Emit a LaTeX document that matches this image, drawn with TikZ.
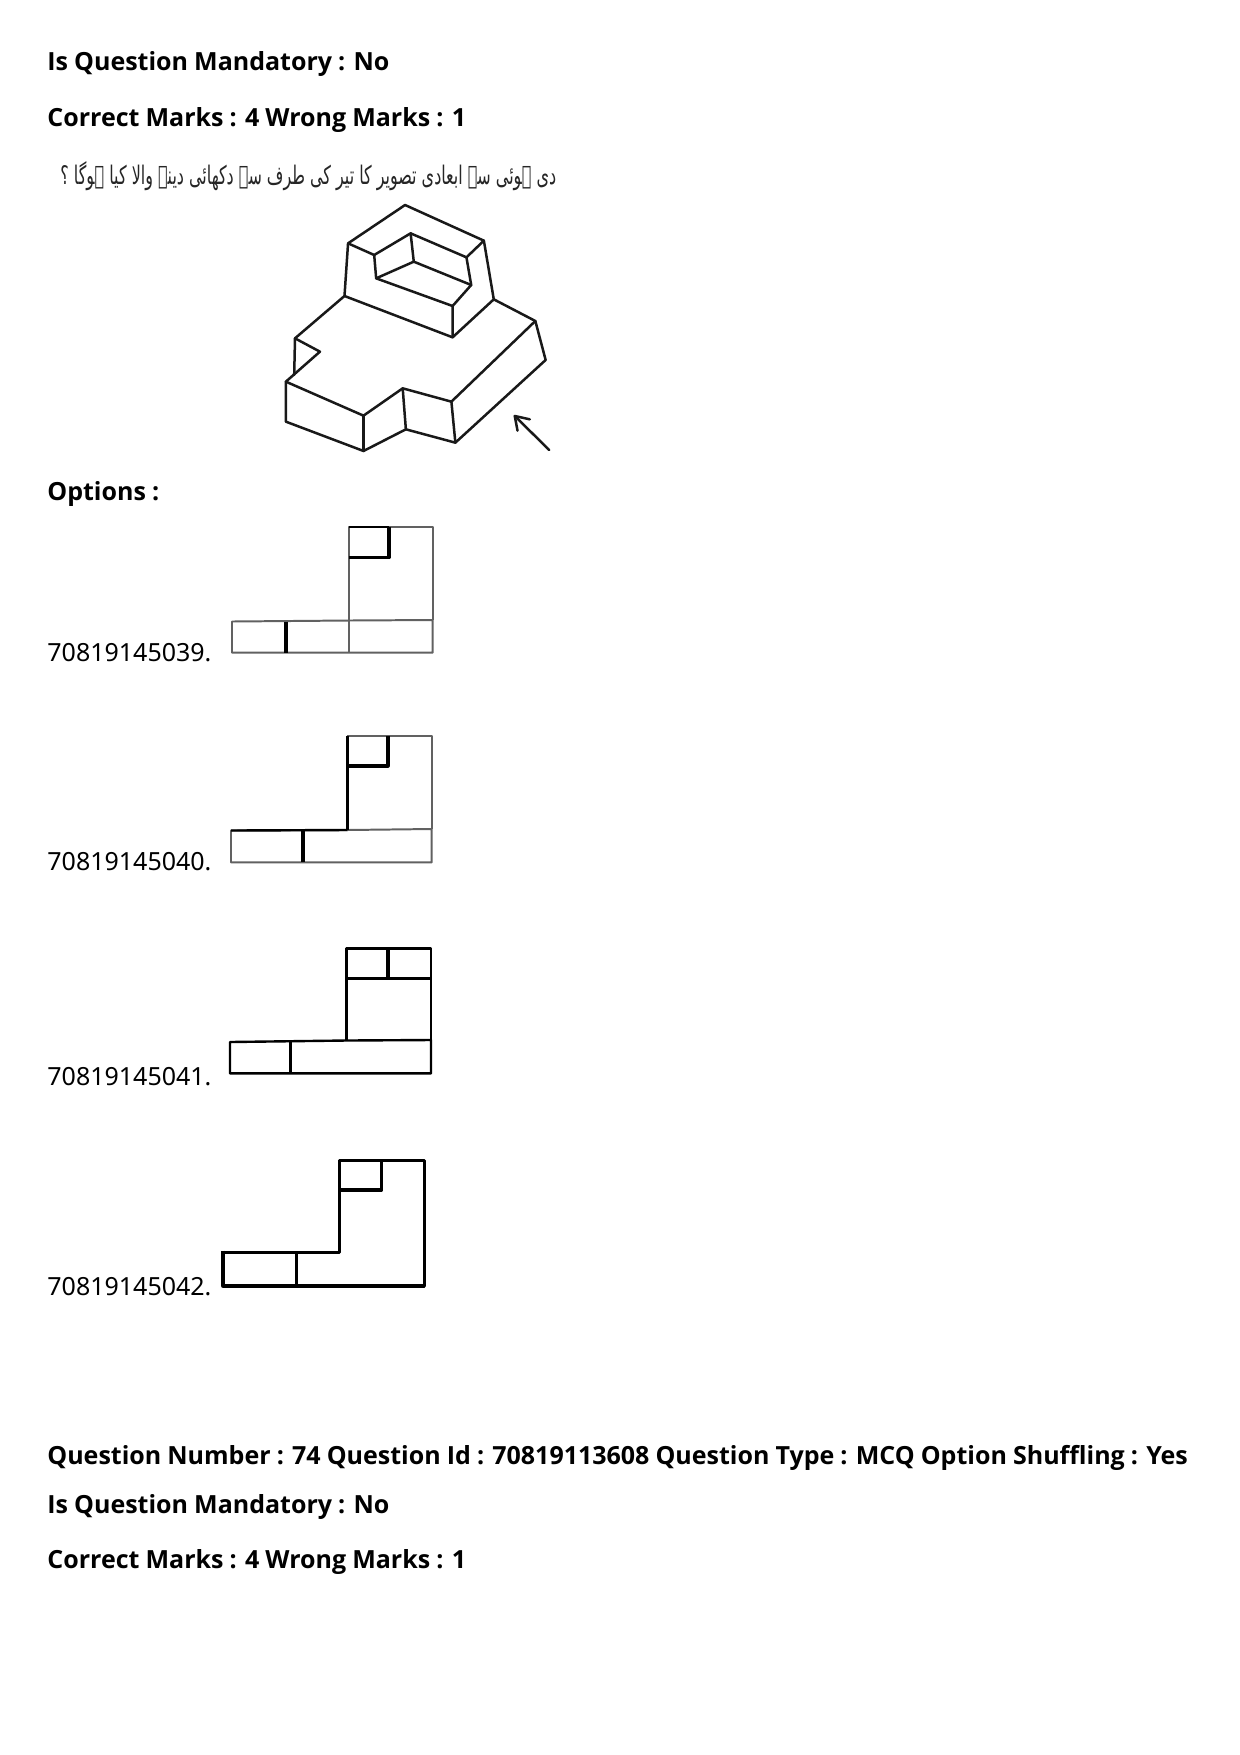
\documentclass[tikz,border=0pt]{standalone}
\usepackage{fontspec}
\setmainfont{Noto Sans}
\newfontfamily\headfont[WordSpace=0.94]{Open Sans}
\newfontfamily\arabicfont[Script=Arabic]{DejaVu Sans}
\TeXXeTstate=1
\tikzset{
  bold label/.style={anchor=base west,inner sep=0pt,font=\headfont\fontsize{12}{14}\selectfont\bfseries,text=black},
  plain label/.style={anchor=base west,inner sep=0pt,font=\fontsize{12}{14}\selectfont,text=black},
  iso/.style={line width=1.2pt,line cap=round,line join=round,black!90},
  thin ink/.style={line width=0.95pt,line join=round,black!62},
  dark ink/.style={line width=1.15pt,line join=round,black},
  heavy ink/.style={line width=1.55pt,line join=round,black},
}
\begin{document}
\begin{tikzpicture}[x=0.48pt,y=-0.48pt]
\useasboundingbox[fill=white] (0,0) rectangle (1240,1755);
\node[bold label] (h1) at (47,70.5) {Is Question Mandatory : No};
\node[bold label] (h2) at (47,126) {Correct Marks : 4 Wrong Marks : 1};
\node[anchor=base west,inner sep=0pt,text=black!85] (urdu) at (60,184)
  {\resizebox*{238pt}{14pt}{\arabicfont\beginR دی ہوئی سہ ابعادی تصویر کا تیر کی طرف سے دکھائی دینے والا کیا ہوگا ؟\endR}};
\node[bold label] (opts) at (47,500) {Options :};
\node[plain label] (o1) at (47,661.5) {70819145039.};
\node[plain label] (o2) at (47,870) {70819145040.};
\node[plain label] (o3) at (47,1085.5) {70819145041.};
\node[plain label] (o4) at (47,1295) {70819145042.};
\node[bold label] (q) at (47,1464) {Question Number : 74 Question Id : 70819113608 Question Type : MCQ Option Shuffling : Yes};
\node[bold label] (q2) at (47,1513) {Is Question Mandatory : No};
\node[bold label] (q3) at (47,1568) {Correct Marks : 4 Wrong Marks : 1};
% isometric figure
\begin{scope}[shift={(0,140)},x=0.48pt/2.525,y=-0.48pt/3]
\coordinate (A) at (1023,195); \coordinate (B) at (879,310); \coordinate (C) at (1222,302);
\coordinate (D) at (945,345); \coordinate (E) at (1037,280); \coordinate (F) at (1178,352);
\coordinate (G) at (1045,365); \coordinate (H) at (950,415); \coordinate (I) at (1190,435);
\coordinate (J) at (1143,498); \coordinate (K) at (1143,592); \coordinate (L) at (870,468);
\coordinate (M) at (1247,478); \coordinate (N) at (1352,543); \coordinate (O) at (1378,660);
\coordinate (P) at (1140,785); \coordinate (Q) at (1017,745); \coordinate (R) at (918,827);
\coordinate (S) at (722,725); \coordinate (T) at (745,595); \coordinate (U) at (808,635);
\coordinate (V) at (743,705); \coordinate (W) at (722,845); \coordinate (X) at (918,933);
\coordinate (Y) at (1025,868); \coordinate (Z) at (1150,908);
\coordinate (a1) at (1387,930); \coordinate (a2) at (1300,828);
\coordinate (a3) at (1307,872); \coordinate (a4) at (1338,838);
\draw[iso] (B) -- (A) -- (C) -- (M) -- (N) -- (O) -- (Z) -- (Y) -- (X) -- (W) -- (S) -- (U) -- (T) -- (L) -- (B);
\draw[iso] (B) -- (D) -- (E) -- (F) -- (C);
\draw[iso] (D) -- (H) -- (J) -- (I) -- (F);
\draw[iso] (E) -- (G) -- (I);
\draw[iso] (G) -- (H);
\draw[iso] (J) -- (K) -- (M);
\draw[iso] (L) -- (K);
\draw[iso] (N) -- (P) -- (Z);
\draw[iso] (P) -- (Q) -- (R) -- (S);
\draw[iso] (Q) -- (Y);
\draw[iso] (R) -- (X);
\draw[iso] (T) -- (V);
\draw[iso] (a1) -- (a2);
\draw[iso] (a3) -- (a2) -- (a4);
\end{scope}
% option 1
\draw[thin ink] (232,621.5) -- (348.8,620.5) -- (432.7,620) -- (432.7,652.7) -- (232,652.7) -- cycle;
\draw[thin ink] (348.8,652.7) -- (348.8,527) -- (432.7,527) -- (432.7,620);
\draw[dark ink] (348.8,527) -- (389,527);
\draw[heavy ink] (286,621.5) -- (286,652.7);
\draw[heavy ink] (348.8,557.7) -- (389,557.7) -- (389,527);
% option 2
\draw[thin ink] (231,830.5) -- (347.3,830) -- (431.7,829) -- (431.7,862.3) -- (231,862.3) -- cycle;
\draw[thin ink] (347.3,736) -- (431.7,736) -- (431.7,829);
\draw[dark ink] (347.3,830) -- (347.3,736);
\draw[dark ink] (231,830.5) -- (347.3,830);
\draw[heavy ink] (303,830.5) -- (303,862.3);
\draw[heavy ink] (346.5,766) -- (388,766) -- (388,736);
% option 3
\draw[dark ink] (230,1042) -- (346.3,1040.5) -- (431,1040) -- (431,1073.3) -- (230,1073.3) -- cycle;
\draw[dark ink] (346.3,1040.5) -- (346.3,948.3) -- (431,948.3) -- (431,1040);
\draw[heavy ink] (290.7,1042) -- (290.7,1073.3);
\draw[heavy ink] (346.3,978.7) -- (431,978.7);
\draw[heavy ink] (388,948.3) -- (388,978.7);
% option 4
\draw[heavy ink] (223,1250.7) -- (223,1286) -- (424.3,1286) -- (424.3,1160.5) -- (339.3,1160.5) -- (339.3,1252.3) -- (223,1252.3);
\draw[heavy ink] (296.7,1252.3) -- (296.7,1286);
\draw[heavy ink] (339.3,1190) -- (381.7,1190) -- (381.7,1160.5);
\end{tikzpicture}
\end{document}
